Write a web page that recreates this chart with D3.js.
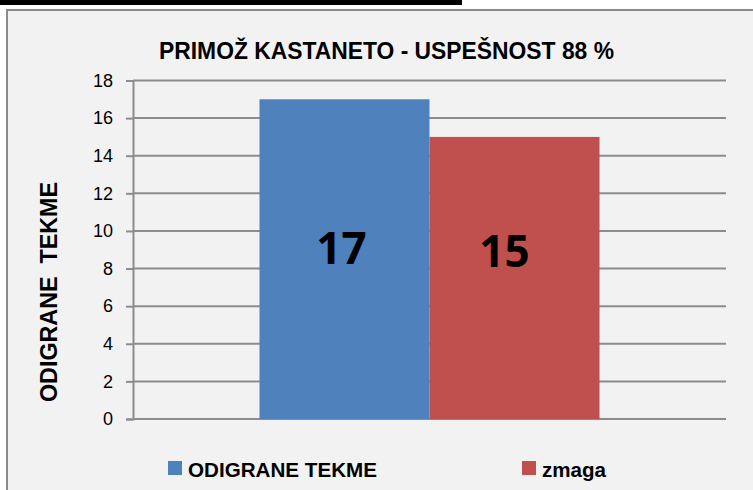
<!DOCTYPE html>
<html>
<head>
<meta charset="utf-8">
<script src="https://cdn.jsdelivr.net/npm/d3@7"></script>
<style>
  body { margin: 0; background: #fff; }
  svg { display: block; }
</style>
</head>
<body>
<div id="main"></div>
<script>
// Sizes
var svgWidth = 753;
var svgHeight = 490;

// Data
var categories = [''];
var seriesNames = ['ODIGRANE TEKME', 'zmaga'];
var seriesValues = [17, 15];
var seriesColors = ['#4f81bd', '#c0504d'];
var yTicks = [0, 2, 4, 6, 8, 10, 12, 14, 16, 18];
var chartTitle = 'PRIMOŽ KASTANETO - USPEŠNOST 88 %';
var yTitle = 'ODIGRANE  TEKME';

// plot area
var plot = {l: 133, r: 726, t: 80.5, b: 419};

var svg = d3.select('#main')
  .append('svg')
  .attr('width', svgWidth)
  .attr('height', svgHeight);

// black strip at the very top
svg.append('rect')
  .attr('x', 0).attr('y', 0)
  .attr('width', 462).attr('height', 5)
  .attr('fill', '#000');

// chart frame
svg.append('rect')
  .attr('x', 7).attr('y', 10)
  .attr('width', 760).attr('height', 500)
  .attr('fill', '#f2f2f2')
  .attr('stroke', '#8a8a8a')
  .attr('stroke-width', 2);

var yScale = d3.scaleLinear().domain([0, 18]).range([plot.b, plot.t]);

var xScale = d3.scaleBand()
  .domain(categories)
  .range([plot.l, plot.r])
  .paddingInner(0)
  .paddingOuter(0.372);

var xInner = d3.scaleBand()
  .domain(seriesNames)
  .range([0, xScale.bandwidth()]);

// gridlines
svg.append('g')
  .selectAll('line')
  .data(yTicks)
  .enter()
  .append('line')
  .attr('x1', plot.l)
  .attr('x2', plot.r)
  .attr('y1', function(d) { return yScale(d); })
  .attr('y2', function(d) { return yScale(d); })
  .attr('stroke', '#8c8c8c')
  .attr('stroke-width', 2);

// y axis
var yAxis = d3.axisLeft(yScale).tickValues(yTicks).tickSize(7).tickPadding(13);
var yAxisG = svg.append('g')
  .attr('transform', 'translate(' + plot.l + ',0)')
  .call(yAxis);
yAxisG.select('.domain').attr('stroke', '#8c8c8c').attr('stroke-width', 2);
yAxisG.selectAll('.tick line').attr('stroke', '#8c8c8c').attr('stroke-width', 2);
yAxisG.selectAll('.tick text')
  .attr('fill', '#000')
  .style('font-family', 'Liberation Sans, Arial, sans-serif')
  .style('font-size', '18px');

// bars
var barData = seriesNames.map(function(name, i) {
  return {name: name, value: seriesValues[i], color: seriesColors[i], cat: categories[0]};
});

svg.append('g')
  .selectAll('rect')
  .data(barData)
  .enter()
  .append('rect')
  .attr('x', function(d) { return xScale(d.cat) + xInner(d.name); })
  .attr('y', function(d) { return yScale(d.value); })
  .attr('width', xInner.bandwidth())
  .attr('height', function(d) { return yScale(0) - yScale(d.value); })
  .attr('fill', function(d) { return d.color; });

// value labels
var labelDx = [-3, -10];
var labelY = [264, 267];
svg.append('g')
  .selectAll('text')
  .data(barData)
  .enter()
  .append('text')
  .attr('x', function(d, i) { return xScale(d.cat) + xInner(d.name) + xInner.bandwidth() / 2 + labelDx[i]; })
  .attr('y', function(d, i) { return labelY[i]; })
  .attr('text-anchor', 'middle')
  .style('font-family', 'Open Sans, sans-serif')
  .style('font-weight', 'bold')
  .style('font-size', '44px')
  .attr('fill', '#000')
  .text(function(d) { return d.value; });

// title
svg.append('text')
  .attr('x', 386.5)
  .attr('y', 59)
  .attr('text-anchor', 'middle')
  .attr('textLength', 455)
  .attr('lengthAdjust', 'spacingAndGlyphs')
  .style('font-family', 'Liberation Sans, Arial, sans-serif')
  .style('font-weight', 'bold')
  .style('font-size', '23px')
  .text(chartTitle);

// y axis title
svg.append('text')
  .attr('transform', 'translate(57, 292) rotate(-90)')
  .attr('text-anchor', 'middle')
  .attr('textLength', 220)
  .attr('lengthAdjust', 'spacingAndGlyphs')
  .style('font-family', 'Liberation Sans, Arial, sans-serif')
  .style('font-weight', 'bold')
  .style('font-size', '24px')
  .style('white-space', 'pre')
  .text(yTitle);

// legend
var legendX = [168, 522];
var legendW = [189, 64];
var legend = svg.append('g')
  .selectAll('g')
  .data(barData)
  .enter()
  .append('g')
  .attr('transform', function(d, i) { return 'translate(' + legendX[i] + ',461)'; });

legend.append('rect')
  .attr('width', 14)
  .attr('height', 14)
  .attr('fill', function(d) { return d.color; });

legend.append('text')
  .attr('x', 20)
  .attr('y', 15.5)
  .attr('textLength', function(d, i) { return legendW[i]; })
  .attr('lengthAdjust', 'spacingAndGlyphs')
  .style('font-family', 'Liberation Sans, Arial, sans-serif')
  .style('font-weight', 'bold')
  .style('font-size', '21px')
  .text(function(d) { return d.name; });
</script>
</body>
</html>
